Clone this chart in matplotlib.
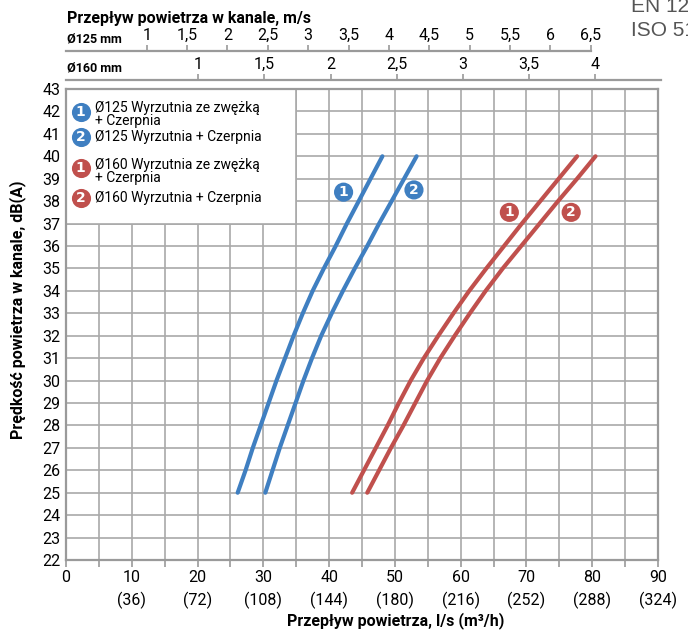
import numpy as np
import matplotlib.pyplot as plt
from matplotlib.patches import Rectangle

plt.rcParams['font.family'] = ['Roboto', 'DejaVu Sans']

# sound level in the duct, dB(A)
DB = [25, 26, 27, 28, 29, 30, 31, 32, 33, 34, 35, 36, 37, 38, 39, 40]

# air flow, l/s
flow_125_zw = [26.1, 27.3, 28.4, 29.6, 30.8, 32.0, 33.3, 34.6, 36.0, 37.5, 39.2, 41.0, 42.7, 44.5, 46.3, 48.1]
flow_125 = [30.3, 31.4, 32.5, 33.7, 34.9, 36.1, 37.4, 38.8, 40.4, 42.1, 43.9, 45.8, 47.6, 49.5, 51.4, 53.3]
flow_160_zw = [43.5, 45.3, 47.1, 48.9, 50.6, 52.4, 54.4, 56.6, 58.9, 61.3, 63.9, 66.6, 69.3, 72.1, 74.9, 77.7]
flow_160 = [45.8, 47.6, 49.4, 51.3, 53.1, 54.9, 56.9, 59.1, 61.4, 63.8, 66.4, 69.2, 72.0, 74.8, 77.7, 80.5]

# curve number badges (flow, dB)
badge_x = [42.2, 52.9, 67.4, 76.8]
badge_y = [38.4, 38.5, 37.5, 37.5]
badge_num = ["1", "2", "1", "2"]

XT_LS = [0, 10, 20, 30, 40, 50, 60, 70, 80, 90]
XT_M3H = [None, 36, 72, 108, 144, 180, 216, 252, 288, 324]

V125 = [1, 1.5, 2, 2.5, 3, 3.5, 4, 4.5, 5, 5.5, 6, 6.5]
V160 = [1, 1.5, 2, 2.5, 3, 3.5, 4, 4.5]

A125 = np.pi * 0.0625 ** 2 * 1000  # l/s per m/s
A160 = np.pi * 0.080 ** 2 * 1000

BLUE = "#3f7fc1"
RED = "#c0504d"
GRID = "#a9a9a9"
FRAME = "#9a9a9a"


def comma(v):
    return f"{v:g}".replace(".", ",")


W, H = 688, 637
fig = plt.figure(figsize=(W / 100, H / 100), dpi=100)
L, R, T, B = 66, 658, 89, 560
ax = fig.add_axes([L / W, 1 - B / H, (R - L) / W, (B - T) / H])

ax.set_xlim(0, 90)
ax.set_ylim(22, 43)
ax.set_xticks(np.arange(0, 91, 5))
xlabels = []
for t in np.arange(0, 91, 5):
    if t in XT_LS:
        m = XT_M3H[XT_LS.index(t)]
        xlabels.append("0" if m is None else f"{t}\n({m})")
    else:
        xlabels.append("")
ax.set_xticklabels(xlabels, linespacing=1.5, va="top")
ax.set_yticks(range(22, 44))
ax.tick_params(axis="x", length=5, width=1.2, color=FRAME, labelsize=11.5, pad=2)
ax.tick_params(axis="y", length=0, labelsize=11.5, pad=4)
ax.grid(True, color=GRID, lw=1.2)
ax.set_axisbelow(True)
for s in ax.spines.values():
    s.set_color(FRAME)
    s.set_linewidth(1.6)

# legend box
ax.add_patch(Rectangle((0, 37), 35, 6, fc="white", ec=GRID, lw=1.2, zorder=1))

ax.plot(flow_125_zw, DB, color=BLUE, lw=3, solid_capstyle="round", zorder=2)
ax.plot(flow_125, DB, color=BLUE, lw=3, solid_capstyle="round", zorder=2)
ax.plot(flow_160_zw, DB, color=RED, lw=3, solid_capstyle="round", zorder=2)
ax.plot(flow_160, DB, color=RED, lw=3, solid_capstyle="round", zorder=2)

badge_col = [BLUE, BLUE, RED, RED]
ax.scatter(badge_x, badge_y, s=190, c=badge_col, zorder=3, linewidths=0)
for x, y, n in zip(badge_x, badge_y, badge_num):
    ax.text(x, y, n, color="white", fontsize=10, fontweight="bold",
            ha="center", va="center", zorder=4, family="DejaVu Sans")

# legend entries (axes fraction)
leg = [
    (0.952, BLUE, "1", ["Ø125 Wyrzutnia ze zwężką", "+ Czerpnia"]),
    (0.899, BLUE, "2", ["Ø125 Wyrzutnia + Czerpnia"]),
    (0.832, RED, "1", ["Ø160 Wyrzutnia ze zwężką", "+ Czerpnia"]),
    (0.768, RED, "2", ["Ø160 Wyrzutnia + Czerpnia"]),
]
for y, c, n, lines in leg:
    ax.scatter([0.025], [y], s=190, c=c, transform=ax.transAxes, zorder=3, linewidths=0)
    ax.text(0.025, y, n, color="white", fontsize=10, fontweight="bold", ha="center",
            va="center", transform=ax.transAxes, zorder=4, family="DejaVu Sans")
    y0 = y + 0.007 if len(lines) > 1 else y
    for i, t in enumerate(lines):
        ax.text(0.049, y0 - i * 0.028, t, fontsize=10, ha="left", va="center",
                transform=ax.transAxes, zorder=4)

# top velocity scales
for pos, area, vals in [(1 + 37.5 / 471, A125, V125), (1 + 9 / 471, A160, V160)]:
    sec = ax.secondary_xaxis(pos, functions=(lambda q, a=area: q / a, lambda v, a=area: v * a))
    sec.set_xticks(vals)
    sec.set_xticklabels([comma(v) for v in vals])
    sec.tick_params(length=4, width=1.2, color=FRAME, labelsize=11.5, pad=2)
    for s in sec.spines.values():
        s.set_color(FRAME)
        s.set_linewidth(1.6)
        s.set_bounds(0, vals[-1])

fig.text(67 / W, 1 - 18 / H, "Przepływ powietrza w kanale, m/s", fontsize=11.5,
         fontweight="bold", ha="left", va="center")
fig.text(67 / W, 1 - 39 / H, "Ø125 mm", fontsize=9, fontweight="bold", ha="left", va="center")
fig.text(67 / W, 1 - 68 / H, "Ø160 mm", fontsize=9, fontweight="bold", ha="left", va="center")
fig.text(18 / W, 1 - 310 / H, "Prędkość powietrza w kanale, dB(A)", fontsize=11.5,
         fontweight="bold", rotation=90, ha="center", va="center")
fig.text(396 / W, 1 - 621 / H, "Przepływ powietrza, l/s (m³/h)", fontsize=11.5,
         fontweight="bold", ha="center", va="center")

fig.text(631 / W, 1 - 6 / H, "EN 12238", fontsize=15, color="#555555",
         family="Liberation Sans", ha="left", va="center")
fig.text(631 / W, 1 - 31 / H, "ISO 5135", fontsize=15, color="#555555",
         family="Liberation Sans", ha="left", va="center")

fig.savefig("out.png", dpi=100)
